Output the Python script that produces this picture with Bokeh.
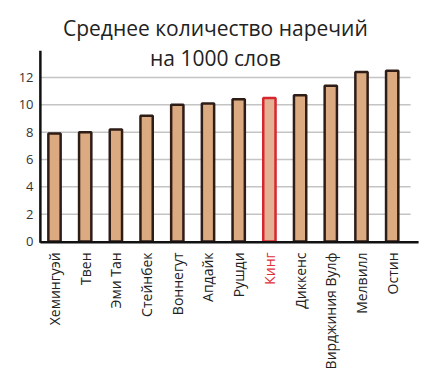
import math
from bokeh.plotting import figure
from bokeh.models import ColumnDataSource, Range1d
from bokeh.core.properties import value
from bokeh.embed import file_html
from bokeh.resources import INLINE

authors = ["Хемингуэй", "Твен", "Эми Тан", "Стейнбек", "Воннегут", "Апдайк",
           "Рушди", "Кинг", "Диккенс", "Вирджиния Вулф", "Мелвилл", "Остин"]
adverbs = [7.9, 8.0, 8.2, 9.2, 10.0, 10.1, 10.4, 10.5, 10.7, 11.4, 12.4, 12.5]
highlight = "Кинг"
y_ticks = [0, 2, 4, 6, 8, 10, 12]
title_lines = ["Среднее количество наречий", "на 1000 слов"]

FONT = "Open Sans"
n = len(authors)
pos = list(range(n))

# layout (positions in data units of the full-canvas frame)
AX_X = -0.46      # y-axis position
X_END = 11.86     # end of x-axis line
GRID_END = 11.6
Y_TOP = 13.95

bar_lines = ["#d8262f" if a == highlight else "#2e1c17" for a in authors]
bar_fills = ["#e3b193" if a == highlight else "#dcaa80" for a in authors]
label_colors = ["#e0303a" if a == highlight else "#222222" for a in authors]
bars = ColumnDataSource(dict(x=pos, top=adverbs, line=bar_lines, fill=bar_fills))
names = ColumnDataSource(dict(x=pos, y=[-0.8] * n, name=authors, c=label_colors))

p = figure(width=432, height=368, output_backend="svg", toolbar_location=None,
           x_range=Range1d(-1.759, 12.313), y_range=Range1d(-9.29, 17.63),
           x_axis_type=None, y_axis_type=None, min_border=0)
p.outline_line_color = None
p.grid.visible = False

# grid lines
gt = y_ticks[1:]
p.segment(x0=[AX_X] * len(gt), x1=[GRID_END] * len(gt), y0=gt, y1=gt,
          line_color="#c4c4c4", line_width=1.5)

# bars
p.vbar(x="x", top="top", bottom=0, width=0.4, source=bars,
       fill_color="fill", line_color="line", line_width=2.5)

# axes lines
p.segment(x0=[AX_X, AX_X], x1=[AX_X, X_END], y0=[-0.1, -0.05], y1=[Y_TOP, -0.05],
          line_color="#111111", line_width=2.5)

# y tick labels
p.text(x=[-0.684] * len(y_ticks), y=y_ticks, text=[str(t) for t in y_ticks],
       text_align="right", text_baseline="middle", text_font=value(FONT),
       text_font_size="13px", text_color="#333333")

# category labels
p.text(x="x", y="y", text="name", source=names, angle=math.pi / 2,
       text_align="right", text_baseline="middle", text_font=value(FONT),
       text_font_size="14px", text_color="c")

# title
p.text(x=[5.24, 5.24], y=[15.65, 13.46], text=title_lines,
       text_align="center", text_baseline="alphabetic", text_font=value(FONT),
       text_font_size="21px", text_color="#222222")

open("out.html", "w").write(file_html(p, INLINE))
